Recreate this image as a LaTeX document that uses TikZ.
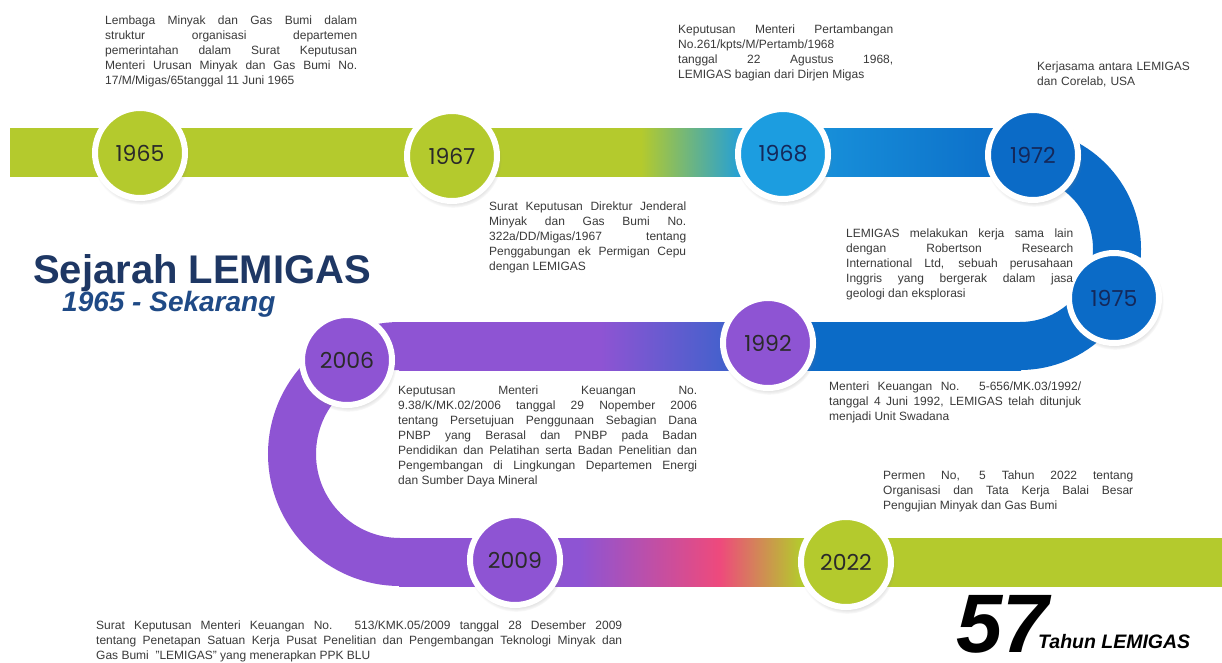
\documentclass[tikz,border=0pt]{standalone}
\usepackage{fontspec}
\setmainfont{Liberation Sans}
\newfontfamily\yearfont{Poppins}
\usetikzlibrary{shadows}
\hyphenpenalty=10000
\definecolor{limeband}{HTML}{B4CA2D}
\definecolor{skyband}{HTML}{1C9DE0}
\definecolor{blueband}{HTML}{0B6BC7}
\definecolor{purpleband}{HTML}{8E54D3}
\definecolor{pinkband}{HTML}{EE4A7C}
\definecolor{notegray}{HTML}{3A3A3A}
\definecolor{yeargray}{HTML}{2A2A2A}
\definecolor{yearnavy}{HTML}{14285A}
\definecolor{titlenavy}{HTML}{1E3764}
\definecolor{subnavy}{HTML}{1F4A86}
% band colour runs (path box maps to 25bp..75bp)
\pgfdeclarehorizontalshading{topband}{100bp}{color(0bp)=(limeband); color(56.2bp)=(limeband);
    color(61.4bp)=(skyband); color(75bp)=(blueband); color(100bp)=(blueband)}
\pgfdeclarehorizontalshading{midband}{100bp}{color(0bp)=(purpleband); color(41.2bp)=(purpleband);
    color(58.8bp)=(blueband); color(100bp)=(blueband)}
\pgfdeclarehorizontalshading{lowband}{100bp}{color(0bp)=(purpleband); color(36bp)=(purpleband);
    color(44.5bp)=(pinkband); color(49.4bp)=(limeband); color(100bp)=(limeband)}
\tikzstyle{band}  = [line width=48pt]
\tikzstyle{year}  = [circle, draw=white, line width=6pt, minimum size=90pt, inner sep=0pt,
                     text=yeargray, font=\yearfont\fontsize{22}{26}\selectfont,
                     circular drop shadow={shadow scale=1.08, shadow xshift=1pt, shadow yshift=-3pt, opacity=0.35}]
\tikzstyle{note}  = [anchor=north west, inner sep=0pt, align=justify, text=notegray,
                     font=\fontsize{12}{15}\selectfont]
\tikzset{every node/.style={inner sep=0pt}}

\begin{document}
\begin{tikzpicture}[x=1pt, y=-1pt]
    \useasboundingbox (0, 0) rectangle (1222, 662);
    \fill[white] (0, 0) rectangle (1222, 662);

    % bands
    \shade [shading=topband] (10, 128) rectangle (1021, 176);
    \draw  [band, blueband] (1020, 152) arc[start angle=-90, end angle=90, radius=97];
    \shade [shading=midband] (399, 322) rectangle (1021, 370);
    \draw  [band, purpleband] (400, 346) arc[start angle=-90, end angle=-270, radius=108];
    \shade [shading=lowband] (399, 538) rectangle (1222, 586);

    % years
    \node (y1965) at (140, 153)  [year, fill=limeband] {1965};
    \node (y1967) at (452, 156)  [year, fill=limeband] {1967};
    \node (y1968) at (783, 154)  [year, fill=skyband, text=yearnavy] {1968};
    \node (y1972) at (1033, 155) [year, fill=blueband, text=yearnavy] {1972};
    \node (y1975) at (1114, 298) [year, fill=blueband, text=yearnavy] {1975};
    \node (y1992) at (768, 343)  [year, fill=purpleband] {1992};
    \node (y2006) at (347, 360)  [year, fill=purpleband] {2006};
    \node (y2009) at (515, 560)  [year, fill=purpleband] {2009};
    \node (y2022) at (846, 562)  [year, fill=limeband] {2022};

    % title
    \node (title) at (33, 283) [anchor=base west, text=titlenavy,
          font=\bfseries\fontsize{40}{44}\selectfont] {Sejarah LEMIGAS};
    \node (span)  at (62, 311) [anchor=base west, text=subnavy,
          font=\bfseries\itshape\fontsize{28}{32}\selectfont] {1965 - Sekarang};
    \node (age)   at (956, 652) [anchor=base west, text depth=0pt, text height=60pt,
          font=\bfseries\itshape\fontsize{83}{86}\selectfont] {57};
    \node (agetx) at (1038, 648) [anchor=base west, text depth=0pt,
          font=\bfseries\itshape\fontsize{19.5}{22}\selectfont] {Tahun LEMIGAS};

    % notes
    \node (n1965) at (105, 16) [note, text width=252pt]
          {Lembaga Minyak dan Gas Bumi dalam\linebreak struktur organisasi departemen\linebreak
           pemerintahan dalam Surat Keputusan\linebreak Menteri Urusan Minyak dan Gas Bumi No.\linebreak
           17/M/Migas/65tanggal 11 Juni 1965};
    \node (n1968) at (678, 25) [note, text width=215pt]
          {Keputusan Menteri Pertambangan\linebreak No.261/kpts/M/Pertamb/1968\newline
           tanggal 22 Agustus 1968,\linebreak LEMIGAS bagian dari Dirjen Migas};
    \node (n1972) at (1037, 62) [note, text width=165pt, align=left]
          {Kerjasama antara LEMIGAS\\dan Corelab, USA};
    \node (n1967) at (489, 202) [note, text width=197pt]
          {Surat Keputusan Direktur Jenderal\linebreak Minyak dan Gas Bumi No.\linebreak
           322a/DD/Migas/1967 tentang\linebreak Penggabungan ek Permigan Cepu\linebreak dengan LEMIGAS};
    \node (n1975) at (846, 229) [note, text width=227pt]
          {LEMIGAS melakukan kerja sama lain\linebreak dengan Robertson Research\linebreak
           International Ltd, sebuah perusahaan\linebreak Inggris yang bergerak dalam jasa\linebreak
           geologi dan eksplorasi};
    \node (n1992) at (829, 382) [note, text width=252pt]
          {Menteri Keuangan No. 5-656/MK.03/1992/\linebreak tanggal 4 Juni 1992, LEMIGAS telah ditunjuk\linebreak
           menjadi Unit Swadana};
    \node (n2006) at (398, 386) [note, text width=299pt]
          {Keputusan Menteri Keuangan No.\linebreak 9.38/K/MK.02/2006 tanggal 29 Nopember 2006\linebreak
           tentang Persetujuan Penggunaan Sebagian Dana\linebreak PNBP yang Berasal dan PNBP pada Badan\linebreak
           Pendidikan dan Pelatihan serta Badan Penelitian dan\linebreak
           Pengembangan di Lingkungan Departemen Energi\linebreak dan Sumber Daya Mineral};
    \node (n2022) at (883, 471) [note, text width=250pt]
          {Permen No, 5 Tahun 2022 tentang\linebreak Organisasi dan Tata Kerja Balai Besar\linebreak
           Pengujian Minyak dan Gas Bumi};
    \node (n2009) at (96, 621) [note, text width=526pt]
          {Surat Keputusan Menteri Keuangan No. 513/KMK.05/2009 tanggal 28 Desember 2009\linebreak
           tentang Penetapan Satuan Kerja Pusat Penelitian dan Pengembangan Teknologi Minyak dan\linebreak
           Gas Bumi \ "LEMIGAS" yang menerapkan PPK BLU};
\end{tikzpicture}
\end{document}
